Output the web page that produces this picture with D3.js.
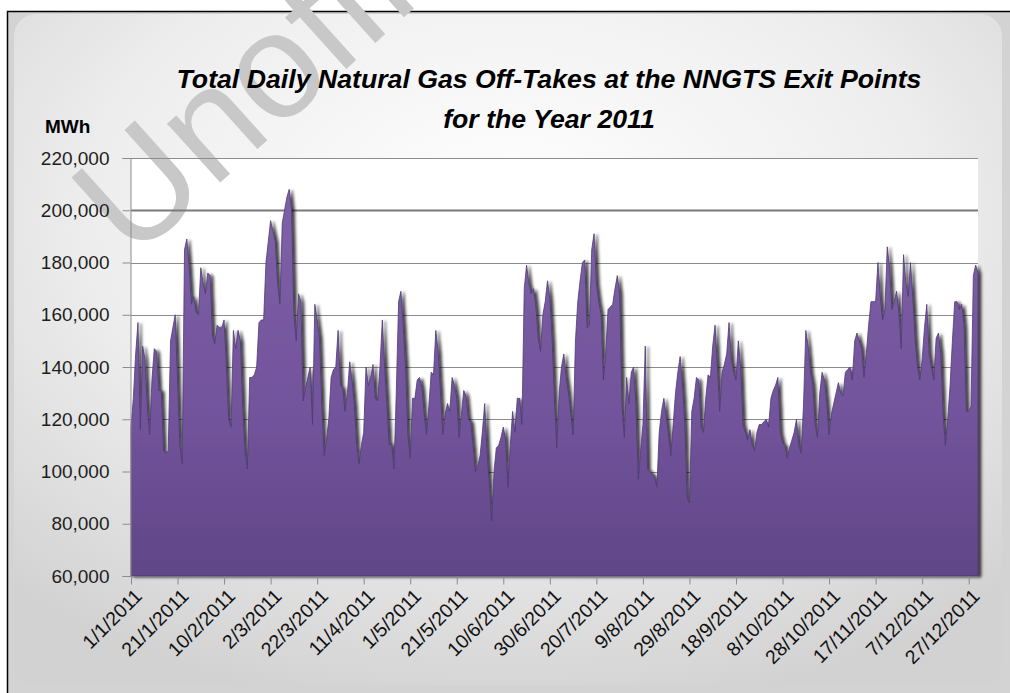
<!DOCTYPE html>
<html>
<head>
<meta charset="utf-8">
<script src="https://cdn.jsdelivr.net/npm/d3@7"></script>
<style>
  html, body { margin: 0; padding: 0; background: #fff; }
  svg { display: block; font-family: "Liberation Sans", Arial, sans-serif; }
</style>
</head>
<body>
<div id="chart-area"></div>
<script>
// daily off-takes in MWh, 1/1/2011 .. 31/12/2011 (10 days per row)
var offtakes = [
  117000,128000,145000,157000,116000,148000,143000,125000,114000,135000,
  147000,146000,131000,131000,108000,107000,108000,150000,155000,160000,
  135000,110000,103000,185000,189000,178000,164000,167000,161000,160000,
  178000,172000,168000,176000,175000,152000,149000,156000,155000,155000,
  158000,140000,120000,117000,154000,147000,154000,150000,125000,108000,
  101000,136000,136000,137000,140000,157000,158000,158000,180000,188000,
  196000,192000,188000,172000,164000,195000,200000,205000,208000,200000,
  160000,150000,168000,165000,127000,132000,136000,140000,118000,164000,
  158000,151000,125000,106000,112000,120000,136000,139000,140000,154000,
  133000,132000,123000,130000,142000,135000,125000,110000,103000,110000,
  115000,140000,133000,136000,141000,128000,127000,140000,158000,140000,
  125000,110000,111000,101000,130000,165000,169000,155000,140000,114000,
  105000,128000,128000,135000,136000,132000,122000,114000,125000,138000,
  137000,154000,146000,130000,114000,122000,126000,123000,136000,133000,
  128000,113000,122000,131000,129000,120000,119000,110000,100000,102000,
  106000,115000,126000,108000,95000,81000,100000,109000,110000,113000,
  117000,112000,94000,110000,123000,115000,128000,128000,118000,170000,
  179000,172000,168000,170000,163000,151000,146000,160000,165000,173000,
  166000,150000,127000,109000,130000,140000,145000,136000,130000,122000,
  114000,150000,165000,173000,180000,181000,155000,156000,185000,191000,
  172000,165000,160000,135000,145000,162000,163000,164000,170000,175000,
  168000,125000,113000,136000,126000,138000,140000,125000,97000,108000,
  118000,148000,101000,100000,99000,98000,94000,115000,123000,128000,
  121000,114000,106000,118000,130000,138000,144000,133000,118000,90000,
  88000,123000,128000,136000,135000,117000,115000,128000,137000,136000,
  148000,156000,140000,123000,138000,141000,145000,157000,143000,138000,
  135000,150000,140000,118000,115000,112000,116000,110000,108000,115000,
  118000,118000,119000,120000,117000,128000,131000,133000,136000,115000,
  111000,110000,105000,109000,112000,115000,120000,110000,107000,125000,
  154000,148000,138000,133000,118000,113000,130000,138000,135000,126000,
  114000,122000,126000,130000,134000,130000,129000,138000,139000,140000,
  135000,150000,153000,150000,147000,136000,145000,156000,165000,165000,
  165000,180000,167000,158000,162000,186000,178000,162000,165000,169000,
  161000,147000,183000,172000,167000,180000,166000,150000,140000,135000,
  143000,155000,164000,145000,140000,135000,151000,153000,145000,122000,
  110000,120000,133000,150000,165000,165000,162000,164000,156000,123000,
  123000,125000,175000,179000,176000
]

// category axis labels, one every 20 days
var tickDays = [0, 20, 40, 60, 80, 100, 120, 140, 160, 180, 200, 220, 240, 260, 280, 300, 320, 340, 360]
var tickLabels = ["1/1/2011", "21/1/2011", "10/2/2011", "2/3/2011", "22/3/2011", "11/4/2011",
  "1/5/2011", "21/5/2011", "10/6/2011", "30/6/2011", "20/7/2011", "9/8/2011", "29/8/2011",
  "18/9/2011", "8/10/2011", "28/10/2011", "17/11/2011", "7/12/2011", "27/12/2011"]

var yTicks = [60000, 80000, 100000, 120000, 140000, 160000, 180000, 200000, 220000]

var titleLines = ["Total Daily Natural Gas Off-Takes at the NNGTS Exit Points", "for the Year 2011"]

var width = 1010, height = 693
var plot = {left: 131, right: 978, top: 158, bottom: 576}

var svg = d3.select("#chart-area").append("svg")
    .attr("width", width)
    .attr("height", height)

var defs = svg.append("defs")

var bg = defs.append("radialGradient").attr("id", "bg")
    .attr("cx", "50%").attr("cy", "30%").attr("r", "75%")
bg.append("stop").attr("offset", "0%").attr("stop-color", "#ffffff")
bg.append("stop").attr("offset", "55%").attr("stop-color", "#eeeeee")
bg.append("stop").attr("offset", "100%").attr("stop-color", "#d2d2d2")

var fillGrad = defs.append("linearGradient").attr("id", "purple")
    .attr("x1", 0).attr("y1", 0).attr("x2", 0).attr("y2", 1)
fillGrad.append("stop").attr("offset", "0%").attr("stop-color", "#7f61a7")
fillGrad.append("stop").attr("offset", "60%").attr("stop-color", "#71539b")
fillGrad.append("stop").attr("offset", "100%").attr("stop-color", "#604687")

var shadow = defs.append("filter").attr("id", "shadow")
    .attr("x", "-5%").attr("y", "-5%").attr("width", "110%").attr("height", "110%")
shadow.append("feGaussianBlur").attr("in", "SourceAlpha").attr("stdDeviation", 1.6).attr("result", "b")
shadow.append("feOffset").attr("in", "b").attr("dx", 2.5).attr("dy", 0.5).attr("result", "o")
shadow.append("feComponentTransfer").attr("in", "o").attr("result", "s")
    .append("feFuncA").attr("type", "linear").attr("slope", 0.75)
var merge = shadow.append("feMerge")
merge.append("feMergeNode").attr("in", "s")
merge.append("feMergeNode").attr("in", "SourceGraphic")

// chart background and frame
svg.append("rect").attr("x", 7).attr("y", 11).attr("width", width - 7).attr("height", height - 11)
    .attr("fill", "#d3d3d3")
svg.append("rect").attr("x", 14).attr("y", 14).attr("width", width - 22).attr("height", height - 22)
    .attr("rx", 22).attr("fill", "url(#bg)")
svg.append("path")
    .attr("d", "M7.5,693 V11.5 H1010")
    .attr("fill", "none").attr("stroke", "#000").attr("stroke-width", 1.5)

// plot area
svg.append("rect")
    .attr("x", plot.left).attr("y", plot.top)
    .attr("width", plot.right - plot.left).attr("height", plot.bottom - plot.top)
    .attr("fill", "#ffffff")

// watermark
svg.append("text")
    .attr("transform", "translate(132,262) rotate(-42)")
    .attr("font-size", 150)
    .attr("fill", "#c8c8c8")
    .text("Unofficial")

var x = d3.scaleLinear().domain([0, offtakes.length - 1]).range([plot.left, plot.right])
var y = d3.scaleLinear().domain([60000, 220000]).range([plot.bottom, plot.top])

// gridlines
svg.append("g")
    .selectAll("line")
    .data(yTicks.slice(1))
    .enter().append("line")
    .attr("x1", plot.left).attr("x2", plot.right)
    .attr("y1", function(d) { return Math.round(y(d)) + 0.5 })
    .attr("y2", function(d) { return Math.round(y(d)) + 0.5 })
    .attr("stroke", function(d) { return d == 200000 ? "#7a7a7a" : "#8c8c8c" })
    .attr("stroke-width", function(d) { return d == 200000 ? 2 : 1 })

var area = d3.area()
    .x(function(d, i) { return x(i) })
    .y0(y(60000))
    .y1(function(d) { return y(d) })

svg.append("path")
    .datum(offtakes)
    .attr("d", area)
    .attr("fill", "url(#purple)")
    .attr("stroke", "#4e3a73")
    .attr("stroke-width", 0.8)
    .attr("filter", "url(#shadow)")

// axes
var yAxis = d3.axisLeft(y)
    .tickValues(yTicks)
    .tickSize(8)
    .tickPadding(13)
    .tickFormat(d3.format(","))

var gy = svg.append("g")
    .attr("transform", "translate(" + (plot.left - 0.5) + ",0)")
    .call(yAxis)
gy.select(".domain").attr("stroke", "#8c8c8c")
gy.selectAll(".tick line").attr("stroke", "#8c8c8c")
gy.selectAll(".tick text")
    .attr("font-size", 19)
    .attr("font-family", "Liberation Sans, Arial, sans-serif")
    .attr("fill", "#1e1e1e")

var xAxis = d3.axisBottom(x)
    .tickValues(tickDays)
    .tickSize(8)
    .tickSizeOuter(0)
    .tickFormat(function(d, i) { return tickLabels[i] })

var gx = svg.append("g")
    .attr("transform", "translate(0," + (plot.bottom + 0.5) + ")")
    .call(xAxis)
gx.select(".domain").attr("stroke", "#8c8c8c")
gx.selectAll(".tick line").attr("stroke", "#8c8c8c")
gx.selectAll(".tick text")
    .attr("font-size", 19.5)
    .attr("font-family", "Liberation Sans, Arial, sans-serif")
    .attr("fill", "#111")
    .attr("text-anchor", "end")
    .attr("dy", 0)
    .attr("transform", "translate(4,13) rotate(-45)")

// titles
svg.append("g")
    .selectAll("text")
    .data(titleLines)
    .enter().append("text")
    .attr("x", 549)
    .attr("y", function(d, i) { return 88 + i * 40 })
    .attr("text-anchor", "middle")
    .attr("font-size", 26.7)
    .attr("font-weight", "bold")
    .attr("font-style", "italic")
    .attr("fill", "#000")
    .text(function(d) { return d })

svg.append("text")
    .attr("x", 45).attr("y", 133)
    .attr("font-size", 19)
    .attr("font-weight", "bold")
    .attr("fill", "#000")
    .text("MWh")
</script>
</body>
</html>
